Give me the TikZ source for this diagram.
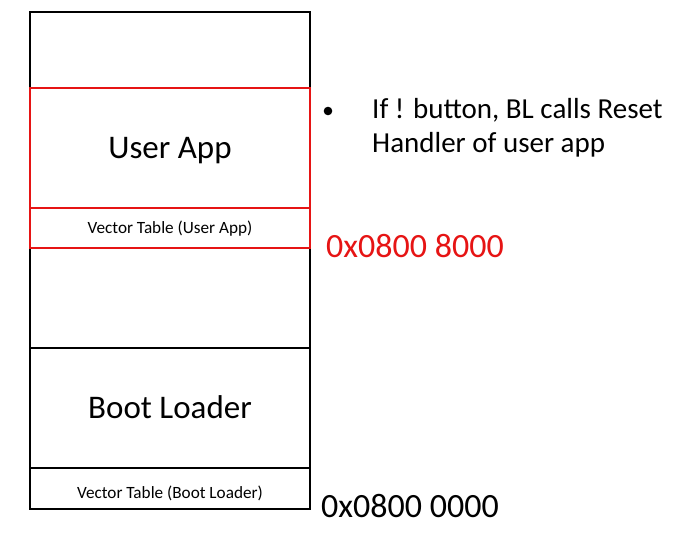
\documentclass[tikz,border=0pt]{standalone}
\usepackage{fontspec}
\setmainfont{Carlito}
\definecolor{memred}{RGB}{230,20,20}
\tikzset{
  blackline/.style={draw=black, line width=1.9pt},
  redline/.style={draw=memred, line width=1.9pt},
  bigtext/.style={anchor=base, inner sep=0pt, font=\fontsize{33}{40}\selectfont},
  smalltext/.style={anchor=base, inner sep=0pt, font=\fontsize{17.2}{20}\selectfont},
  addrtext/.style={anchor=base west, inner sep=0pt, font=\fontsize{34}{40}\selectfont},
  notetext/.style={anchor=base west, inner sep=0pt, font=\fontsize{29}{34}\selectfont}
}
\begin{document}
\begin{tikzpicture}[x=1pt,y=-1pt]
\useasboundingbox (0,0) rectangle (676,547);
% outer memory frame
\draw[blackline] (30,12) rectangle (310,509);
\draw[blackline] (30,348) -- (310,348);
\draw[blackline] (30,468) -- (310,468);
% user app region in red
\draw[redline] (30,88) rectangle (310,248);
\draw[redline] (30,208) -- (310,208);
% labels inside
\node[bigtext] (userapp) at (170,158) {User App};
\node[smalltext] (vtuser) at (170,233) {Vector Table (User App)};
\node[bigtext] (bootloader) at (170,418) {Boot Loader};
\node[smalltext] (vtboot) at (170,498) {Vector Table (Boot Loader)};
% addresses
\node[addrtext, text=memred] (addr8000) at (326,257) {0x0800 8000};
\node[addrtext] (addr0000) at (321,517) {0x0800 0000};
% note
\fill[black] (328,111) circle (4.3);
\node[notetext] (note1) at (372,118) {If ! button, BL calls Reset};
\node[notetext] (note2) at (372,152) {Handler of user app};
\end{tikzpicture}
\end{document}
